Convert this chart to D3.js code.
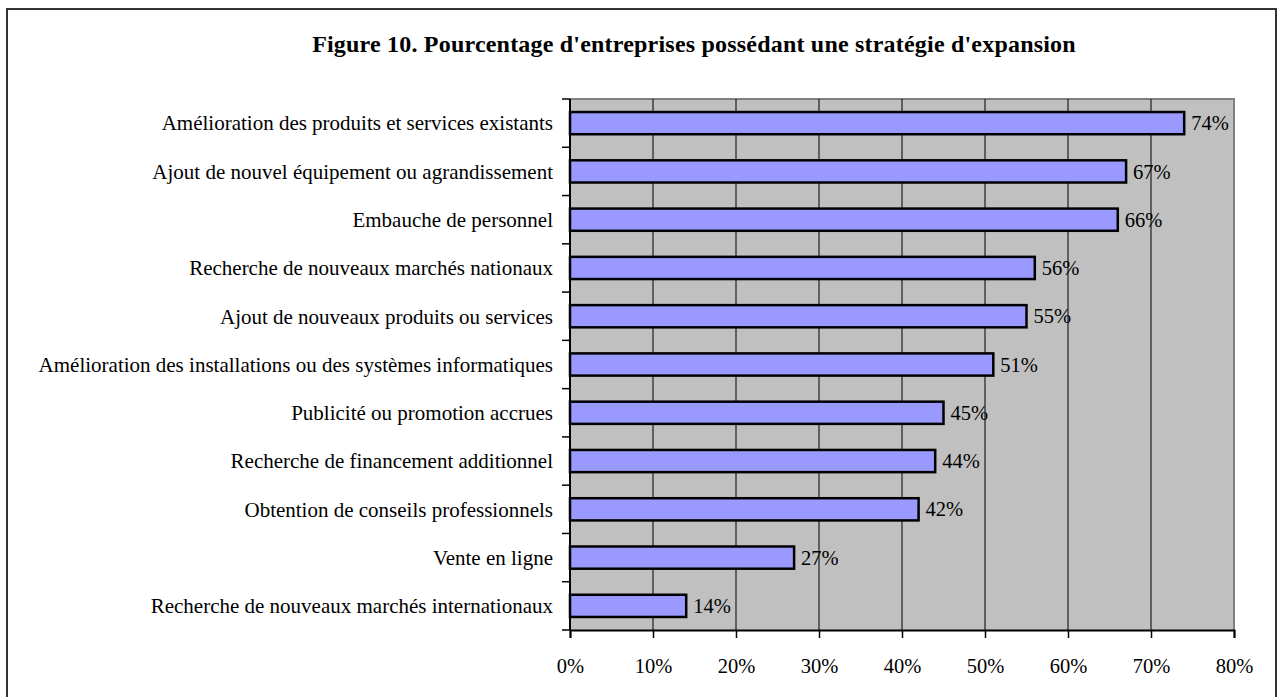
<!DOCTYPE html>
<html>
<head>
    <meta charset="UTF-8">
    <title>Figure 10</title>
    <style>
        body { margin: 0; background: #fff; }
        svg { display: block; }
        text { font-family: "Liberation Serif", "Times New Roman", serif; fill: #000; }
    </style>
</head>
<body>
    <svg></svg>
    <script src="https://d3js.org/d3.v7.min.js"></script>
    <script>
        // data
        let categories = [
            "Amélioration des produits et services existants",
            "Ajout de nouvel équipement ou agrandissement",
            "Embauche de personnel",
            "Recherche de nouveaux marchés nationaux",
            "Ajout de nouveaux produits ou services",
            "Amélioration des installations ou des systèmes informatiques",
            "Publicité ou promotion accrues",
            "Recherche de financement additionnel",
            "Obtention de conseils professionnels",
            "Vente en ligne",
            "Recherche de nouveaux marchés internationaux"
        ];
        let values = [74, 67, 66, 56, 55, 51, 45, 44, 42, 27, 14];
        let xTicks = [0, 10, 20, 30, 40, 50, 60, 70, 80];
        let title = "Figure 10. Pourcentage d'entreprises possédant une stratégie d'expansion";

        let width = 1284, height = 697;
        let svg = d3.select("svg").attr("width", width).attr("height", height);

        // outer frame
        svg.append("rect")
            .attr("x", 7).attr("y", 9)
            .attr("width", 1269).attr("height", 700)
            .attr("fill", "none").attr("stroke", "#333").attr("stroke-width", 2);

        svg.append("text")
            .attr("x", 694).attr("y", 52)
            .attr("text-anchor", "middle")
            .style("font-size", "24px").style("font-weight", "bold")
            .style("letter-spacing", "0.2px")
            .text(title);

        let pLeft = 570, pRight = 1234, pTop = 99, pBottom = 630;

        let x = d3.scaleLinear().domain([0, 80]).range([pLeft, pRight]);
        let y = d3.scaleBand().domain(categories).range([pTop, pBottom]).paddingInner(0.54).paddingOuter(0.27);

        // plot background
        svg.append("rect")
            .attr("x", pLeft).attr("y", pTop)
            .attr("width", pRight - pLeft).attr("height", pBottom - pTop)
            .attr("fill", "#c0c0c0");
        // gray top/right frame
        svg.append("path")
            .attr("d", "M" + pLeft + "," + pTop + "H" + pRight + "V" + pBottom)
            .attr("fill", "none").attr("stroke", "#808080").attr("stroke-width", 2);

        // gridlines
        svg.append("g").selectAll("line")
            .data(xTicks.slice(1, -1))
            .enter().append("line")
            .attr("x1", d => x(d)).attr("x2", d => x(d))
            .attr("y1", pTop).attr("y2", pBottom)
            .attr("stroke", "#000").attr("stroke-width", 1);

        // bars
        svg.append("g").selectAll("rect")
            .data(values)
            .enter().append("rect")
            .attr("x", x(0))
            .attr("y", (d, i) => y(categories[i]))
            .attr("width", d => x(d) - x(0))
            .attr("height", y.bandwidth())
            .attr("fill", "#9999ff")
            .attr("stroke", "#000").attr("stroke-width", 2.5);

        // value labels
        svg.append("g").selectAll("text")
            .data(values)
            .enter().append("text")
            .attr("x", d => x(d) + 7)
            .attr("y", (d, i) => y(categories[i]) + y.bandwidth() / 2)
            .attr("dy", "0.35em")
            .style("font-size", "20.5px")
            .text(d => d + "%");

        // x axis
        let xAxis = d3.axisBottom(x).tickValues(xTicks).tickFormat(d => d + "%").tickSize(8).tickPadding(20);
        let gx = svg.append("g").attr("transform", "translate(0," + pBottom + ")").call(xAxis);
        gx.select(".domain").attr("stroke", "#000").attr("stroke-width", 2);
        gx.selectAll(".tick line").attr("stroke", "#000").attr("stroke-width", 1.5);
        gx.selectAll(".tick text").style("font-family", "Liberation Serif, serif").style("font-size", "20.5px").attr("fill", "#000");

        // y axis: ticks on band boundaries
        let yb = d3.range(categories.length + 1).map(i => pTop + i * (pBottom - pTop) / categories.length);
        svg.append("g").selectAll("line")
            .data(yb)
            .enter().append("line")
            .attr("x1", pLeft - 8).attr("x2", pLeft)
            .attr("y1", d => d).attr("y2", d => d)
            .attr("stroke", "#000").attr("stroke-width", 1.5);
        svg.append("line")
            .attr("x1", pLeft).attr("x2", pLeft).attr("y1", pTop).attr("y2", pBottom)
            .attr("stroke", "#000").attr("stroke-width", 2);

        svg.append("g").selectAll("text")
            .data(categories)
            .enter().append("text")
            .attr("x", 553)
            .attr("y", d => y(d) + y.bandwidth() / 2)
            .attr("dy", "0.35em")
            .attr("text-anchor", "end")
            .style("font-size", "21px")
            .text(d => d);
    </script>
</body>
</html>
